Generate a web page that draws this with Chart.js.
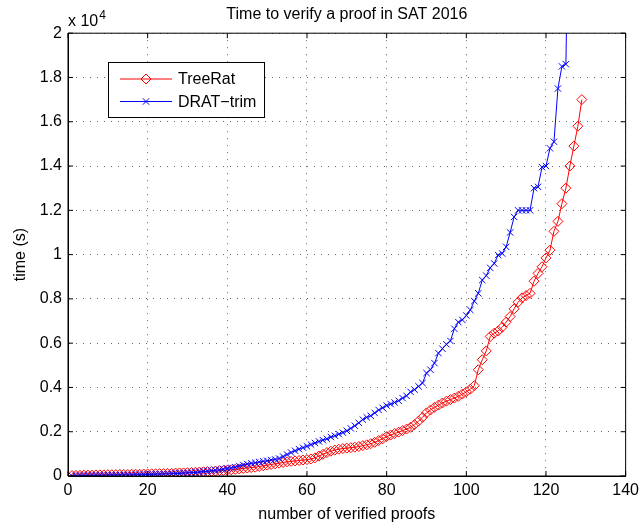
<!DOCTYPE html>
<html>
<head>
<meta charset="utf-8">
<script src="https://cdn.jsdelivr.net/npm/chart.js@4"></script>
<style>
  html, body { margin: 0; padding: 0; background: #fff; }
  canvas { display: block; }
</style>
</head>
<body>
<canvas id="myChart" width="644" height="524"></canvas>
<script>
// time (s) per verified proof, sorted
const treeRatTimes = [
  20, 30, 30, 40, 40, 40, 50, 50, 50, 60,
  60, 60, 70, 70, 70, 80, 80, 80, 90, 90,
  100, 100, 110, 110, 120, 120, 130, 140, 140, 150,
  160, 170, 180, 190, 200, 210, 220, 240, 250, 270,
  280, 300, 320, 340, 360, 380, 400, 430, 460, 490,
  520, 550, 580, 610, 640, 660, 680, 700, 720, 740,
  770, 820, 900, 980, 1060, 1120, 1170, 1210, 1240, 1260,
  1280, 1300, 1330, 1370, 1410, 1460, 1520, 1600, 1680, 1780,
  1850, 1920, 1980, 2050, 2120, 2200, 2320, 2480, 2650, 2850,
  2980, 3100, 3200, 3300, 3380, 3450, 3520, 3600, 3700, 3800,
  3920, 4080, 4800, 5250, 5650, 6300, 6450, 6550, 6720, 6950,
  7200, 7550, 7850, 8050, 8150, 8250, 8800, 9150, 9450, 9850,
  10200, 11050, 11500, 12300, 13000, 14000, 14900, 15800, 17000
]
const dratTimes = [
  10, 10, 20, 20, 20, 30, 30, 30, 30, 40,
  40, 40, 40, 50, 50, 50, 60, 60, 60, 70,
  70, 80, 80, 90, 90, 100, 110, 120, 130, 140,
  150, 160, 180, 200, 220, 240, 260, 280, 310, 340,
  370, 400, 450, 500, 540, 570, 600, 630, 660, 690,
  720, 750, 790, 880, 970, 1060, 1140, 1210, 1280, 1340,
  1420, 1490, 1560, 1620, 1680, 1760, 1820, 1890, 1960, 2040,
  2150, 2270, 2400, 2550, 2650, 2720, 2850, 2980, 3080, 3180,
  3250, 3320, 3400, 3520, 3620, 3800, 3900, 4050, 4200, 4650,
  4800, 5100, 5550, 5750, 5950, 6100, 6650, 6950, 7050, 7250,
  7500, 7900, 8250, 8850, 9050, 9400, 9600, 9980, 10050, 10350,
  11000, 11700, 12000, 12000, 12000, 12000, 13000, 13060, 13950, 14000,
  14800, 15100, 17500, 18500, 18600, 30000
]
const xTicks = [0, 20, 40, 60, 80, 100, 120, 140]
const yTicks = [0, 2000, 4000, 6000, 8000, 10000, 12000, 14000, 16000, 18000, 20000]

const FONT = 'Liberation Sans, Arial, Helvetica, sans-serif'

const toPoints = (times) => times.map((t, i) => ({ x: i + 1, y: t }))

function drawMarker(ctx, style, x, y, r, color) {
    ctx.save()
    ctx.strokeStyle = color
    ctx.lineWidth = 1
    ctx.beginPath()
    if (style === 'rectRot') {
        ctx.moveTo(x - r, y)
        ctx.lineTo(x, y - r)
        ctx.lineTo(x + r, y)
        ctx.lineTo(x, y + r)
        ctx.closePath()
    } else {
        const d = r * Math.SQRT1_2
        ctx.moveTo(x - d, y - d)
        ctx.lineTo(x + d, y + d)
        ctx.moveTo(x + d, y - d)
        ctx.lineTo(x - d, y + d)
    }
    ctx.stroke()
    ctx.restore()
}

// matlab style box, inward ticks, exponent label and legend
const matlabFrame = {
    id: 'matlabFrame',
    afterDraw(chart) {
        const ctx = chart.ctx
        const area = chart.chartArea
        const xs = chart.scales.x
        const ys = chart.scales.y
        const tl = 5

        ctx.save()
        ctx.strokeStyle = '#000'
        ctx.lineWidth = 1
        ctx.beginPath()
        ctx.rect(area.left, area.top, area.right - area.left, area.bottom - area.top)
        ctx.stroke()

        ctx.beginPath()
        xTicks.forEach(v => {
            const px = xs.getPixelForValue(v)
            ctx.moveTo(px, area.bottom); ctx.lineTo(px, area.bottom - tl)
            ctx.moveTo(px, area.top); ctx.lineTo(px, area.top + tl)
        })
        yTicks.forEach(v => {
            const py = ys.getPixelForValue(v)
            ctx.moveTo(area.left, py); ctx.lineTo(area.left + tl, py)
            ctx.moveTo(area.right, py); ctx.lineTo(area.right - tl, py)
        })
        ctx.stroke()

        // x 10^4
        ctx.fillStyle = '#000'
        ctx.textBaseline = 'alphabetic'
        ctx.textAlign = 'left'
        ctx.font = '16px ' + FONT
        const base = 'x 10'
        ctx.fillText(base, area.left, 26)
        const w = ctx.measureText(base).width
        ctx.font = '12px ' + FONT
        ctx.fillText('4', area.left + w + 1, 19)

        // legend
        const lx = 108.5, ly = 62.5, lw = 156, lh = 55
        ctx.fillStyle = '#fff'
        ctx.fillRect(lx, ly, lw, lh)
        ctx.strokeStyle = '#000'
        ctx.strokeRect(lx, ly, lw, lh)
        const rows = [79, 101.5]
        chart.data.datasets.forEach((ds, i) => {
            const y = rows[i]
            ctx.strokeStyle = ds.borderColor
            ctx.lineWidth = 1
            ctx.beginPath()
            ctx.moveTo(120, y)
            ctx.lineTo(172, y)
            ctx.stroke()
            drawMarker(ctx, ds.pointStyle, 146, y, ds.pointRadius, ds.borderColor)
            ctx.fillStyle = '#000'
            ctx.font = '16px ' + FONT
            ctx.textBaseline = 'middle'
            ctx.fillText(ds.label, 178, y + 1)
        })
        ctx.restore()
    }
}

const ctx = document.getElementById('myChart')

new Chart(ctx, {
    type: 'line',
    data: {
        datasets: [{
            label: 'TreeRat',
            data: toPoints(treeRatTimes),
            borderColor: '#ff0000',
            backgroundColor: 'rgba(0,0,0,0)',
            borderWidth: 1,
            pointStyle: 'rectRot',
            pointRadius: 5,
            pointBorderWidth: 1,
            pointBackgroundColor: 'rgba(0,0,0,0)',
            tension: 0,
            order: 2
        }, {
            label: 'DRAT\u2212trim',
            data: toPoints(dratTimes),
            borderColor: '#0000ff',
            backgroundColor: 'rgba(0,0,0,0)',
            borderWidth: 1,
            pointStyle: 'crossRot',
            pointRadius: 4.5,
            pointBorderWidth: 1,
            pointBackgroundColor: 'rgba(0,0,0,0)',
            tension: 0,
            order: 1
        }]
    },
    options: {
        responsive: false,
        animation: false,
        devicePixelRatio: 1,
        layout: { padding: { left: 0, right: 16, top: 0, bottom: 0 } },
        plugins: {
            legend: { display: false },
            tooltip: { enabled: false },
            title: {
                display: true,
                fullSize: false,
                text: 'Time to verify a proof in SAT 2016',
                color: '#000',
                font: { family: FONT, size: 16, weight: 'normal' },
                padding: { top: 5, bottom: 9 }
            }
        },
        scales: {
            x: {
                type: 'linear',
                min: 0,
                max: 140,
                afterFit: (scale) => { scale.height = 48 },
                afterBuildTicks: (scale) => { scale.ticks = xTicks.map(v => ({ value: v })) },
                ticks: {
                    color: '#000',
                    font: { family: FONT, size: 16 },
                    padding: 5,
                    maxRotation: 0
                },
                grid: { color: 'rgba(0,0,0,0.6)', drawTicks: false, lineWidth: 1 },
                border: { display: true, color: '#000', dash: [1, 6] },
                title: {
                    display: true,
                    text: 'number of verified proofs',
                    color: '#000',
                    font: { family: FONT, size: 16 },
                    padding: { top: 9, bottom: 0 }
                }
            },
            y: {
                type: 'linear',
                min: 0,
                max: 20000,
                afterFit: (scale) => { scale.width = 68 },
                afterBuildTicks: (scale) => { scale.ticks = yTicks.map(v => ({ value: v })) },
                ticks: {
                    color: '#000',
                    font: { family: FONT, size: 16 },
                    padding: 6,
                    callback: (v) => parseFloat((v / 10000).toFixed(1)).toString()
                },
                grid: { color: 'rgba(0,0,0,0.6)', drawTicks: false, lineWidth: 1 },
                border: { display: true, color: '#000', dash: [1, 6] },
                title: {
                    display: true,
                    text: 'time (s)',
                    color: '#000',
                    font: { family: FONT, size: 16 },
                    padding: { top: 11, bottom: 0 }
                }
            }
        }
    },
    plugins: [matlabFrame]
});
</script>
</body>
</html>
